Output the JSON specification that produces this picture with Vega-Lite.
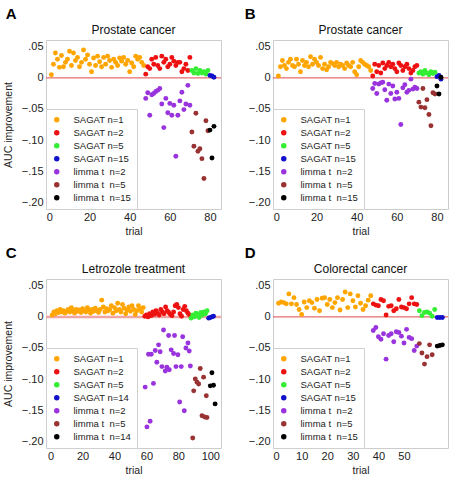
{
"$schema": "https://vega.github.io/schema/vega-lite/v6.json",
"padding": {"left": 2, "top": 6, "right": 0, "bottom": 0},
"columns": 2,
"spacing": {"column": 21, "row": 8},
"datasets": {
"A": [
{"t":1,"v":0.005,"g":"s1"},{"t":2,"v":0.022,"g":"s1"},{"t":3,"v":0.040,"g":"s1"},{"t":4,"v":0.030,"g":"s1"},{"t":5,"v":0.017,"g":"s1"},{"t":6,"v":0.036,"g":"s1"},{"t":7,"v":0.018,"g":"s1"},{"t":8,"v":0.025,"g":"s1"},{"t":9,"v":0.030,"g":"s1"},{"t":10,"v":0.043,"g":"s1"},
{"t":11,"v":0.020,"g":"s1"},{"t":12,"v":0.040,"g":"s1"},{"t":13,"v":0.028,"g":"s1"},{"t":14,"v":0.033,"g":"s1"},{"t":15,"v":0.018,"g":"s1"},{"t":16,"v":0.025,"g":"s1"},{"t":17,"v":0.045,"g":"s1"},{"t":18,"v":0.030,"g":"s1"},{"t":19,"v":0.037,"g":"s1"},{"t":20,"v":0.022,"g":"s1"},
{"t":21,"v":0.010,"g":"s1"},{"t":22,"v":0.032,"g":"s1"},{"t":23,"v":0.020,"g":"s1"},{"t":24,"v":0.035,"g":"s1"},{"t":25,"v":0.026,"g":"s1"},{"t":26,"v":0.018,"g":"s1"},{"t":27,"v":0.033,"g":"s1"},{"t":28,"v":0.022,"g":"s1"},{"t":29,"v":0.035,"g":"s1"},{"t":30,"v":0.028,"g":"s1"},
{"t":31,"v":0.017,"g":"s1"},{"t":32,"v":0.030,"g":"s1"},{"t":33,"v":0.025,"g":"s1"},{"t":34,"v":0.020,"g":"s1"},{"t":35,"v":0.032,"g":"s1"},{"t":36,"v":0.027,"g":"s1"},{"t":37,"v":0.033,"g":"s1"},{"t":38,"v":0.022,"g":"s1"},{"t":39,"v":0.028,"g":"s1"},{"t":40,"v":0.010,"g":"s1"},
{"t":41,"v":0.024,"g":"s1"},{"t":42,"v":0.018,"g":"s1"},{"t":43,"v":0.035,"g":"s1"},{"t":44,"v":0.030,"g":"s1"},{"t":45,"v":0.033,"g":"s1"},{"t":46,"v":0.025,"g":"s1"},{"t":47,"v":0.020,"g":"s1"},
{"t":48,"v":0.006,"g":"s2"},{"t":49,"v":0.018,"g":"s2"},{"t":50,"v":0.015,"g":"s2"},{"t":51,"v":0.030,"g":"s2"},{"t":52,"v":0.022,"g":"s2"},{"t":53,"v":0.033,"g":"s2"},{"t":54,"v":0.020,"g":"s2"},{"t":55,"v":0.015,"g":"s2"},{"t":56,"v":0.035,"g":"s2"},{"t":57,"v":0.025,"g":"s2"},
{"t":58,"v":0.030,"g":"s2"},{"t":59,"v":0.018,"g":"s2"},{"t":60,"v":0.022,"g":"s2"},{"t":61,"v":0.033,"g":"s2"},{"t":62,"v":0.027,"g":"s2"},{"t":63,"v":0.020,"g":"s2"},{"t":64,"v":0.025,"g":"s2"},{"t":65,"v":0.025,"g":"s2"},{"t":66,"v":0.010,"g":"s2"},{"t":67,"v":0.015,"g":"s2"},
{"t":68,"v":0.022,"g":"s2"},{"t":69,"v":0.012,"g":"s2"},{"t":70,"v":0.033,"g":"s2"},
{"t":71,"v":0.012,"g":"s5"},{"t":72,"v":0.008,"g":"s5"},{"t":73,"v":0.015,"g":"s5"},{"t":74,"v":0.007,"g":"s5"},{"t":75,"v":0.012,"g":"s5"},{"t":76,"v":0.008,"g":"s5"},{"t":77,"v":0.010,"g":"s5"},{"t":78,"v":0.006,"g":"s5"},{"t":79,"v":0.012,"g":"s5"},
{"t":80,"v":0.004,"g":"s15"},{"t":81,"v":0.003,"g":"s15"},{"t":82,"v":0.001,"g":"s15"},
{"t":48,"v":-0.033,"g":"l2"},{"t":49,"v":-0.024,"g":"l2"},{"t":50,"v":-0.060,"g":"l2"},{"t":51,"v":-0.027,"g":"l2"},{"t":52,"v":-0.025,"g":"l2"},{"t":53,"v":-0.022,"g":"l2"},{"t":54,"v":-0.020,"g":"l2"},{"t":55,"v":-0.017,"g":"l2"},{"t":56,"v":-0.042,"g":"l2"},{"t":57,"v":-0.080,"g":"l2"},
{"t":58,"v":-0.033,"g":"l2"},{"t":59,"v":-0.056,"g":"l2"},{"t":60,"v":-0.041,"g":"l2"},{"t":61,"v":-0.060,"g":"l2"},{"t":62,"v":-0.044,"g":"l2"},{"t":63,"v":-0.126,"g":"l2"},{"t":64,"v":-0.060,"g":"l2"},{"t":65,"v":-0.037,"g":"l2"},{"t":66,"v":-0.023,"g":"l2"},{"t":67,"v":-0.051,"g":"l2"},
{"t":68,"v":-0.042,"g":"l2"},{"t":69,"v":-0.012,"g":"l2"},{"t":70,"v":-0.044,"g":"l2"},
{"t":71,"v":-0.087,"g":"l5"},{"t":72,"v":-0.110,"g":"l5"},{"t":73,"v":-0.057,"g":"l5"},{"t":74,"v":-0.118,"g":"l5"},{"t":75,"v":-0.114,"g":"l5"},{"t":76,"v":-0.130,"g":"l5"},{"t":77,"v":-0.162,"g":"l5"},{"t":78,"v":-0.069,"g":"l5"},{"t":79,"v":-0.085,"g":"l5"},
{"t":80,"v":-0.084,"g":"l15"},{"t":81,"v":-0.129,"g":"l15"},{"t":82,"v":-0.078,"g":"l15"}
],
"B": [
{"t":1,"v":0.003,"g":"s1"},{"t":2,"v":0.018,"g":"s1"},{"t":3,"v":0.028,"g":"s1"},{"t":4,"v":0.020,"g":"s1"},{"t":5,"v":0.015,"g":"s1"},{"t":6,"v":0.025,"g":"s1"},{"t":7,"v":0.030,"g":"s1"},{"t":8,"v":0.020,"g":"s1"},{"t":9,"v":0.018,"g":"s1"},{"t":10,"v":0.030,"g":"s1"},
{"t":11,"v":0.022,"g":"s1"},{"t":12,"v":0.010,"g":"s1"},{"t":13,"v":0.028,"g":"s1"},{"t":14,"v":0.020,"g":"s1"},{"t":15,"v":0.025,"g":"s1"},{"t":16,"v":0.018,"g":"s1"},{"t":17,"v":0.034,"g":"s1"},{"t":18,"v":0.022,"g":"s1"},{"t":19,"v":0.030,"g":"s1"},{"t":20,"v":0.025,"g":"s1"},
{"t":21,"v":0.020,"g":"s1"},{"t":22,"v":0.033,"g":"s1"},{"t":23,"v":0.015,"g":"s1"},{"t":24,"v":0.022,"g":"s1"},{"t":25,"v":0.013,"g":"s1"},{"t":26,"v":0.018,"g":"s1"},{"t":27,"v":0.025,"g":"s1"},{"t":28,"v":0.023,"g":"s1"},{"t":29,"v":0.020,"g":"s1"},{"t":30,"v":0.025,"g":"s1"},
{"t":31,"v":0.018,"g":"s1"},{"t":32,"v":0.022,"g":"s1"},{"t":33,"v":0.020,"g":"s1"},{"t":34,"v":0.015,"g":"s1"},{"t":35,"v":0.024,"g":"s1"},{"t":36,"v":0.020,"g":"s1"},{"t":37,"v":0.018,"g":"s1"},{"t":38,"v":0.025,"g":"s1"},{"t":39,"v":0.010,"g":"s1"},{"t":40,"v":0.005,"g":"s1"},
{"t":41,"v":0.018,"g":"s1"},{"t":42,"v":0.028,"g":"s1"},{"t":43,"v":0.025,"g":"s1"},{"t":44,"v":0.022,"g":"s1"},{"t":45,"v":0.020,"g":"s1"},{"t":46,"v":0.018,"g":"s1"},{"t":47,"v":0.012,"g":"s1"},
{"t":48,"v":0.003,"g":"s2"},{"t":49,"v":0.022,"g":"s2"},{"t":50,"v":0.010,"g":"s2"},{"t":51,"v":0.020,"g":"s2"},{"t":52,"v":0.008,"g":"s2"},{"t":53,"v":0.024,"g":"s2"},{"t":54,"v":0.015,"g":"s2"},{"t":55,"v":0.020,"g":"s2"},{"t":56,"v":0.025,"g":"s2"},{"t":57,"v":0.018,"g":"s2"},
{"t":58,"v":0.022,"g":"s2"},{"t":59,"v":0.015,"g":"s2"},{"t":60,"v":0.010,"g":"s2"},{"t":61,"v":0.024,"g":"s2"},{"t":62,"v":0.020,"g":"s2"},{"t":63,"v":0.012,"g":"s2"},{"t":64,"v":0.018,"g":"s2"},{"t":65,"v":0.022,"g":"s2"},{"t":66,"v":0.015,"g":"s2"},{"t":67,"v":0.008,"g":"s2"},
{"t":68,"v":0.012,"g":"s2"},{"t":69,"v":0.018,"g":"s2"},{"t":70,"v":0.020,"g":"s2"},
{"t":71,"v":0.008,"g":"s5"},{"t":72,"v":0.010,"g":"s5"},{"t":73,"v":0.006,"g":"s5"},{"t":74,"v":0.012,"g":"s5"},{"t":75,"v":0.008,"g":"s5"},{"t":76,"v":0.005,"g":"s5"},{"t":77,"v":0.010,"g":"s5"},{"t":78,"v":0.007,"g":"s5"},{"t":79,"v":0.009,"g":"s5"},
{"t":80,"v":0.002,"g":"s15"},{"t":81,"v":0.004,"g":"s15"},{"t":82,"v":-0.002,"g":"s15"},
{"t":48,"v":-0.017,"g":"l2"},{"t":49,"v":-0.009,"g":"l2"},{"t":50,"v":-0.025,"g":"l2"},{"t":51,"v":-0.010,"g":"l2"},{"t":52,"v":-0.008,"g":"l2"},{"t":53,"v":-0.007,"g":"l2"},{"t":54,"v":-0.019,"g":"l2"},{"t":55,"v":-0.036,"g":"l2"},{"t":56,"v":-0.010,"g":"l2"},{"t":57,"v":-0.025,"g":"l2"},
{"t":58,"v":-0.013,"g":"l2"},{"t":59,"v":-0.034,"g":"l2"},{"t":60,"v":-0.023,"g":"l2"},{"t":61,"v":-0.033,"g":"l2"},{"t":62,"v":-0.075,"g":"l2"},{"t":63,"v":-0.016,"g":"l2"},{"t":64,"v":-0.011,"g":"l2"},{"t":65,"v":-0.023,"g":"l2"},{"t":66,"v":-0.020,"g":"l2"},{"t":67,"v":-0.002,"g":"l2"},
{"t":68,"v":-0.018,"g":"l2"},{"t":69,"v":-0.015,"g":"l2"},{"t":70,"v":-0.017,"g":"l2"},
{"t":71,"v":-0.039,"g":"l5"},{"t":72,"v":-0.047,"g":"l5"},{"t":73,"v":-0.017,"g":"l5"},{"t":74,"v":-0.048,"g":"l5"},{"t":75,"v":-0.035,"g":"l5"},{"t":76,"v":-0.059,"g":"l5"},{"t":77,"v":-0.077,"g":"l5"},{"t":78,"v":-0.024,"g":"l5"},{"t":79,"v":-0.026,"g":"l5"},
{"t":80,"v":-0.013,"g":"l15"},{"t":81,"v":-0.026,"g":"l15"},{"t":82,"v":0.001,"g":"l15"}
],
"C": [
{"t":1,"v":0.003,"g":"s1"},{"t":2,"v":0.008,"g":"s1"},{"t":3,"v":0.005,"g":"s1"},{"t":4,"v":0.010,"g":"s1"},{"t":5,"v":0.007,"g":"s1"},{"t":6,"v":0.012,"g":"s1"},{"t":7,"v":0.008,"g":"s1"},{"t":8,"v":0.010,"g":"s1"},{"t":9,"v":0.006,"g":"s1"},{"t":10,"v":0.009,"g":"s1"},
{"t":11,"v":0.012,"g":"s1"},{"t":12,"v":0.008,"g":"s1"},{"t":13,"v":0.015,"g":"s1"},{"t":14,"v":0.010,"g":"s1"},{"t":15,"v":0.006,"g":"s1"},{"t":16,"v":0.012,"g":"s1"},{"t":17,"v":0.009,"g":"s1"},{"t":18,"v":0.011,"g":"s1"},{"t":19,"v":0.007,"g":"s1"},{"t":20,"v":0.013,"g":"s1"},
{"t":21,"v":0.010,"g":"s1"},{"t":22,"v":0.008,"g":"s1"},{"t":23,"v":0.015,"g":"s1"},{"t":24,"v":0.011,"g":"s1"},{"t":25,"v":0.006,"g":"s1"},{"t":26,"v":0.012,"g":"s1"},{"t":27,"v":0.009,"g":"s1"},{"t":28,"v":0.014,"g":"s1"},{"t":29,"v":0.010,"g":"s1"},{"t":30,"v":0.007,"g":"s1"},
{"t":31,"v":0.012,"g":"s1"},{"t":32,"v":0.027,"g":"s1"},{"t":33,"v":0.016,"g":"s1"},{"t":34,"v":0.008,"g":"s1"},{"t":35,"v":0.013,"g":"s1"},{"t":36,"v":0.010,"g":"s1"},{"t":37,"v":0.012,"g":"s1"},{"t":38,"v":0.018,"g":"s1"},{"t":39,"v":0.006,"g":"s1"},{"t":40,"v":0.015,"g":"s1"},
{"t":41,"v":0.010,"g":"s1"},{"t":42,"v":0.022,"g":"s1"},{"t":43,"v":0.012,"g":"s1"},{"t":44,"v":0.008,"g":"s1"},{"t":45,"v":0.020,"g":"s1"},{"t":46,"v":0.014,"g":"s1"},{"t":47,"v":0.005,"g":"s1"},{"t":48,"v":0.011,"g":"s1"},{"t":49,"v":0.016,"g":"s1"},{"t":50,"v":0.009,"g":"s1"},
{"t":51,"v":0.018,"g":"s1"},{"t":52,"v":0.012,"g":"s1"},{"t":53,"v":0.004,"g":"s1"},{"t":54,"v":0.010,"g":"s1"},{"t":55,"v":0.018,"g":"s1"},{"t":56,"v":0.013,"g":"s1"},{"t":57,"v":0.008,"g":"s1"},{"t":58,"v":0.015,"g":"s1"},
{"t":59,"v":0.001,"g":"s2"},{"t":60,"v":0.003,"g":"s2"},{"t":61,"v":0.000,"g":"s2"},{"t":62,"v":0.005,"g":"s2"},{"t":63,"v":0.002,"g":"s2"},{"t":64,"v":0.008,"g":"s2"},{"t":65,"v":0.004,"g":"s2"},{"t":66,"v":0.010,"g":"s2"},{"t":67,"v":0.006,"g":"s2"},{"t":68,"v":0.003,"g":"s2"},
{"t":69,"v":0.012,"g":"s2"},{"t":70,"v":0.008,"g":"s2"},{"t":71,"v":0.005,"g":"s2"},{"t":72,"v":0.016,"g":"s2"},{"t":73,"v":0.010,"g":"s2"},{"t":74,"v":0.007,"g":"s2"},{"t":75,"v":0.004,"g":"s2"},{"t":76,"v":0.002,"g":"s2"},{"t":77,"v":0.008,"g":"s2"},{"t":78,"v":0.018,"g":"s2"},
{"t":79,"v":0.020,"g":"s2"},{"t":80,"v":0.015,"g":"s2"},{"t":81,"v":0.005,"g":"s2"},{"t":82,"v":0.001,"g":"s2"},{"t":83,"v":0.012,"g":"s2"},{"t":84,"v":0.017,"g":"s2"},{"t":85,"v":0.010,"g":"s2"},{"t":86,"v":0.006,"g":"s2"},{"t":87,"v":0.003,"g":"s2"},
{"t":88,"v":-0.002,"g":"s5"},{"t":89,"v":0.003,"g":"s5"},{"t":90,"v":0.000,"g":"s5"},{"t":91,"v":0.006,"g":"s5"},{"t":92,"v":0.004,"g":"s5"},{"t":93,"v":-0.001,"g":"s5"},{"t":94,"v":0.007,"g":"s5"},{"t":95,"v":0.003,"g":"s5"},{"t":96,"v":0.008,"g":"s5"},{"t":97,"v":0.005,"g":"s5"},{"t":98,"v":0.010,"g":"s5"},
{"t":99,"v":-0.002,"g":"s14"},{"t":100,"v":-0.001,"g":"s14"},{"t":101,"v":0.000,"g":"s14"},{"t":102,"v":0.001,"g":"s14"},
{"t":59.2,"v":-0.113,"g":"l2"},{"t":60.3,"v":-0.177,"g":"l2"},{"t":61.3,"v":-0.060,"g":"l2"},{"t":62.3,"v":-0.168,"g":"l2"},{"t":63,"v":-0.060,"g":"l2"},{"t":64.4,"v":-0.107,"g":"l2"},{"t":65.5,"v":-0.054,"g":"l2"},{"t":66.5,"v":-0.073,"g":"l2"},{"t":67.6,"v":-0.045,"g":"l2"},{"t":68.6,"v":-0.056,"g":"l2"},
{"t":69.7,"v":-0.080,"g":"l2"},{"t":70.7,"v":-0.021,"g":"l2"},{"t":71.8,"v":-0.087,"g":"l2"},{"t":72.8,"v":-0.081,"g":"l2"},{"t":73.9,"v":-0.030,"g":"l2"},{"t":74.3,"v":-0.085,"g":"l2"},{"t":75.5,"v":-0.053,"g":"l2"},{"t":77,"v":-0.059,"g":"l2"},{"t":77.6,"v":-0.030,"g":"l2"},{"t":78.5,"v":-0.080,"g":"l2"},
{"t":79.7,"v":-0.061,"g":"l2"},{"t":80.8,"v":-0.137,"g":"l2"},{"t":81.8,"v":-0.080,"g":"l2"},{"t":82.7,"v":-0.032,"g":"l2"},{"t":83.7,"v":-0.151,"g":"l2"},{"t":84.7,"v":-0.050,"g":"l2"},{"t":86,"v":-0.042,"g":"l2"},{"t":86.8,"v":-0.055,"g":"l2"},{"t":87.5,"v":-0.079,"g":"l2"},
{"t":89,"v":-0.195,"g":"l5"},{"t":89.6,"v":-0.119,"g":"l5"},{"t":90.6,"v":-0.100,"g":"l5"},{"t":91.7,"v":-0.105,"g":"l5"},{"t":92.7,"v":-0.108,"g":"l5"},{"t":93.7,"v":-0.083,"g":"l5"},{"t":94.8,"v":-0.159,"g":"l5"},{"t":95.8,"v":-0.097,"g":"l5"},{"t":96.5,"v":-0.161,"g":"l5"},{"t":97.5,"v":-0.127,"g":"l5"},{"t":97.9,"v":-0.162,"g":"l5"},
{"t":100,"v":-0.111,"g":"l14"},{"t":101,"v":-0.090,"g":"l14"},{"t":102,"v":-0.110,"g":"l14"},{"t":103,"v":-0.140,"g":"l14"}
],
"D": [
{"t":1,"v":0.022,"g":"s1"},{"t":2,"v":0.024,"g":"s1"},{"t":3,"v":0.023,"g":"s1"},{"t":4,"v":0.021,"g":"s1"},{"t":5,"v":0.037,"g":"s1"},{"t":6,"v":0.021,"g":"s1"},{"t":7,"v":0.031,"g":"s1"},{"t":8,"v":0.020,"g":"s1"},{"t":9,"v":0.012,"g":"s1"},{"t":10,"v":0.004,"g":"s1"},
{"t":11,"v":0.024,"g":"s1"},{"t":12,"v":0.015,"g":"s1"},{"t":13,"v":0.026,"g":"s1"},{"t":14,"v":0.023,"g":"s1"},{"t":15,"v":0.014,"g":"s1"},{"t":16,"v":0.028,"g":"s1"},{"t":17,"v":0.010,"g":"s1"},{"t":18,"v":0.030,"g":"s1"},{"t":19,"v":0.031,"g":"s1"},{"t":20,"v":0.020,"g":"s1"},
{"t":21,"v":0.028,"g":"s1"},{"t":22,"v":0.015,"g":"s1"},{"t":23,"v":0.023,"g":"s1"},{"t":24,"v":0.031,"g":"s1"},{"t":25,"v":0.011,"g":"s1"},{"t":26,"v":0.028,"g":"s1"},{"t":27,"v":0.040,"g":"s1"},{"t":28,"v":0.015,"g":"s1"},{"t":29,"v":0.037,"g":"s1"},{"t":30,"v":0.026,"g":"s1"},
{"t":31,"v":0.016,"g":"s1"},{"t":32,"v":0.034,"g":"s1"},{"t":33,"v":0.022,"g":"s1"},{"t":34,"v":0.012,"g":"s1"},{"t":35,"v":0.018,"g":"s1"},{"t":36,"v":0.027,"g":"s1"},{"t":37,"v":0.034,"g":"s1"},
{"t":38,"v":0.021,"g":"s2"},{"t":39,"v":0.019,"g":"s2"},{"t":40,"v":0.018,"g":"s2"},{"t":41,"v":0.028,"g":"s2"},{"t":42,"v":0.026,"g":"s2"},{"t":43,"v":0.003,"g":"s2"},{"t":44,"v":0.017,"g":"s2"},{"t":45,"v":0.018,"g":"s2"},{"t":46,"v":0.010,"g":"s2"},{"t":47,"v":0.013,"g":"s2"},
{"t":48,"v":0.028,"g":"s2"},{"t":49,"v":0.016,"g":"s2"},{"t":50,"v":0.015,"g":"s2"},{"t":51,"v":0.013,"g":"s2"},{"t":52,"v":0.021,"g":"s2"},{"t":53,"v":0.031,"g":"s2"},{"t":54,"v":0.021,"g":"s2"},{"t":55,"v":0.020,"g":"s2"},
{"t":56,"v":0.010,"g":"s5"},{"t":57,"v":0.002,"g":"s5"},{"t":58,"v":0.007,"g":"s5"},{"t":59,"v":0.008,"g":"s5"},{"t":60,"v":0.006,"g":"s5"},{"t":61,"v":0.001,"g":"s5"},{"t":62,"v":0.012,"g":"s5"},
{"t":63,"v":-0.001,"g":"s15"},{"t":64,"v":-0.001,"g":"s15"},{"t":65,"v":-0.001,"g":"s15"},
{"t":38,"v":-0.022,"g":"l2"},{"t":39,"v":-0.017,"g":"l2"},{"t":40,"v":-0.032,"g":"l2"},{"t":41,"v":-0.036,"g":"l2"},{"t":42,"v":-0.027,"g":"l2"},{"t":43,"v":-0.068,"g":"l2"},{"t":44,"v":-0.030,"g":"l2"},{"t":45,"v":-0.027,"g":"l2"},{"t":46,"v":-0.040,"g":"l2"},{"t":47,"v":-0.024,"g":"l2"},
{"t":48,"v":-0.025,"g":"l2"},{"t":49,"v":-0.031,"g":"l2"},{"t":50,"v":-0.042,"g":"l2"},{"t":51,"v":-0.020,"g":"l2"},{"t":52,"v":-0.033,"g":"l2"},{"t":53,"v":-0.035,"g":"l2"},{"t":54,"v":-0.054,"g":"l2"},{"t":55,"v":-0.047,"g":"l2"},
{"t":56,"v":-0.043,"g":"l5"},{"t":57,"v":-0.058,"g":"l5"},{"t":58,"v":-0.076,"g":"l5"},{"t":59,"v":-0.064,"g":"l5"},{"t":60,"v":-0.045,"g":"l5"},{"t":61,"v":-0.061,"g":"l5"},
{"t":63,"v":-0.047,"g":"l15"},{"t":64,"v":-0.046,"g":"l15"},{"t":65,"v":-0.045,"g":"l15"}
]
},
"concat": [
{
"title": {"text": "A", "anchor": "start", "fontSize": 15, "fontWeight": "bold", "offset": 2, "dx": 3, "color": "#000"},
"resolve": {"scale": {"color": "independent"}, "legend": {"color": "independent"}},
"vconcat": [{
"title": {"text": "Prostate cancer"},
"width": 175, "height": 169,
"layer": [
{"data": {"values": [{}]}, "mark": {"type": "rule", "color": "#E04848", "strokeWidth": 1}, "encoding": {"y": {"datum": 0, "type": "quantitative"}}},
{"data": {"name": "A"}, "mark": {"type": "circle", "size": 24, "opacity": 1},
"encoding": {
"x": {"field": "t", "type": "quantitative", "scale": {"domain": [-1.7, 85.5], "nice": false, "zero": false}, "axis": {"values": [0, 20, 40, 60, 80], "tickCount": 10, "title": "trial"}},
"y": {"field": "v", "type": "quantitative", "scale": {"domain": [-0.211, 0.061], "nice": false}, "axis": {"values": [-0.2, -0.15, -0.1, -0.05, 0, 0.05], "tickCount": 10, "labelOverlap": false, "labelExpr": "datum.value == 0 ? '0' : replace(format(datum.value, '.2f'), '0.', '.')", "title": "AUC improvement"}},
"color": {"field": "g", "type": "nominal", "scale": {"domain": ["s1","s2","s5","s15","l2","l5","l15"], "range": ["#FFA500","#EE1111","#33EE33","#1111CC","#9933DD","#993333","#000000"]}, "legend": {"orient": "bottom-left", "labelExpr": "(substring(datum.label,0,1)=='s' ? 'SAGAT n=' : 'limma t\u00a0 n=') + substring(datum.label,1)"}}
}}
]
}]
},
{
"title": {"text": "B", "anchor": "start", "fontSize": 15, "fontWeight": "bold", "offset": 2, "dx": -3, "color": "#000"},
"resolve": {"scale": {"color": "independent"}, "legend": {"color": "independent"}},
"vconcat": [{
"title": {"text": "Prostate cancer"},
"width": 175, "height": 169,
"layer": [
{"data": {"values": [{}]}, "mark": {"type": "rule", "color": "#E04848", "strokeWidth": 1}, "encoding": {"y": {"datum": 0, "type": "quantitative"}}},
{"data": {"name": "B"}, "mark": {"type": "circle", "size": 24, "opacity": 1},
"encoding": {
"x": {"field": "t", "type": "quantitative", "scale": {"domain": [-1.7, 85.5], "nice": false, "zero": false}, "axis": {"values": [0, 20, 40, 60, 80], "tickCount": 10, "title": "trial"}},
"y": {"field": "v", "type": "quantitative", "scale": {"domain": [-0.211, 0.061], "nice": false}, "axis": {"values": [-0.2, -0.15, -0.1, -0.05, 0, 0.05], "tickCount": 10, "labelOverlap": false, "labelExpr": "datum.value == 0 ? '0' : replace(format(datum.value, '.2f'), '0.', '.')", "title": null}},
"color": {"field": "g", "type": "nominal", "scale": {"domain": ["s1","s2","s5","s15","l2","l5","l15"], "range": ["#FFA500","#EE1111","#33EE33","#1111CC","#9933DD","#993333","#000000"]}, "legend": {"orient": "bottom-left", "labelExpr": "(substring(datum.label,0,1)=='s' ? 'SAGAT n=' : 'limma t\u00a0 n=') + substring(datum.label,1)"}}
}}
]
}]
},
{
"title": {"text": "C", "anchor": "start", "fontSize": 15, "fontWeight": "bold", "offset": 2, "dx": 3, "color": "#000"},
"resolve": {"scale": {"color": "independent"}, "legend": {"color": "independent"}},
"vconcat": [{
"title": {"text": "Letrozole treatment"},
"width": 175, "height": 169,
"layer": [
{"data": {"values": [{}]}, "mark": {"type": "rule", "color": "#F0A4A4", "strokeWidth": 2.5}, "encoding": {"y": {"datum": 0, "type": "quantitative"}}},
{"data": {"name": "C"}, "mark": {"type": "circle", "size": 24, "opacity": 1},
"encoding": {
"x": {"field": "t", "type": "quantitative", "scale": {"domain": [-2.9, 106.7], "nice": false, "zero": false}, "axis": {"values": [0, 20, 40, 60, 80, 100], "tickCount": 10, "title": "trial"}},
"y": {"field": "v", "type": "quantitative", "scale": {"domain": [-0.211, 0.061], "nice": false}, "axis": {"values": [-0.2, -0.15, -0.1, -0.05, 0, 0.05], "tickCount": 10, "labelOverlap": false, "labelExpr": "datum.value == 0 ? '0' : replace(format(datum.value, '.2f'), '0.', '.')", "title": "AUC improvement"}},
"color": {"field": "g", "type": "nominal", "scale": {"domain": ["s1","s2","s5","s14","l2","l5","l14"], "range": ["#FFA500","#EE1111","#33EE33","#1111CC","#9933DD","#993333","#000000"]}, "legend": {"orient": "bottom-left", "labelExpr": "(substring(datum.label,0,1)=='s' ? 'SAGAT n=' : 'limma t\u00a0 n=') + substring(datum.label,1)"}}
}}
]
}]
},
{
"title": {"text": "D", "anchor": "start", "fontSize": 15, "fontWeight": "bold", "offset": 2, "dx": -3, "color": "#000"},
"resolve": {"scale": {"color": "independent"}, "legend": {"color": "independent"}},
"vconcat": [{
"title": {"text": "Colorectal cancer"},
"width": 175, "height": 169,
"layer": [
{"data": {"values": [{}]}, "mark": {"type": "rule", "color": "#E04848", "strokeWidth": 1}, "encoding": {"y": {"datum": 0, "type": "quantitative"}}},
{"data": {"name": "D"}, "mark": {"type": "circle", "size": 24, "opacity": 1},
"encoding": {
"x": {"field": "t", "type": "quantitative", "scale": {"domain": [-1.2, 67.2], "nice": false, "zero": false}, "axis": {"values": [0, 10, 20, 30, 40, 50], "tickCount": 10, "title": "trial"}},
"y": {"field": "v", "type": "quantitative", "scale": {"domain": [-0.211, 0.061], "nice": false}, "axis": {"values": [-0.2, -0.15, -0.1, -0.05, 0, 0.05], "tickCount": 10, "labelOverlap": false, "labelExpr": "datum.value == 0 ? '0' : replace(format(datum.value, '.2f'), '0.', '.')", "title": null}},
"color": {"field": "g", "type": "nominal", "scale": {"domain": ["s1","s2","s5","s15","l2","l5","l15"], "range": ["#FFA500","#EE1111","#33EE33","#1111CC","#9933DD","#993333","#000000"]}, "legend": {"orient": "bottom-left", "labelExpr": "(substring(datum.label,0,1)=='s' ? 'SAGAT n=' : 'limma t\u00a0 n=') + substring(datum.label,1)"}}
}}
]
}]
}
],
"resolve": {"scale": {"color": "independent", "x": "independent", "y": "independent"}, "legend": {"color": "independent"}},
"config": {
"font": "Liberation Sans",
"view": {"stroke": "#cccccc", "strokeWidth": 1},
"axis": {"domain": false, "ticks": false, "grid": false, "labelOverlap": false, "labelFontSize": 11, "labelColor": "#222222", "titleFontSize": 10.5, "titleFontWeight": "normal", "titleColor": "#222222"},
"axisX": {"labelPadding": 2, "titlePadding": 4},
"axisY": {"labelPadding": 3, "titlePadding": 8},
"title": {"fontSize": 12, "fontWeight": "normal", "color": "#111111", "offset": 3},
"legend": {"orient": "bottom-left", "offset": 0, "padding": 6, "strokeColor": "#d0d0d0", "fillColor": "white", "title": null, "labelFontSize": 9.5, "labelColor": "#222222", "symbolSize": 30, "symbolType": "circle", "symbolStrokeWidth": 0, "rowPadding": 2, "labelOffset": 12}
}
}
